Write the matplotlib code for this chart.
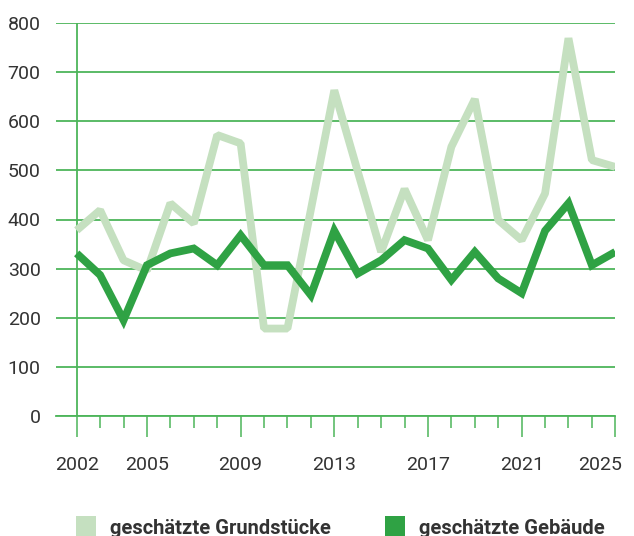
import matplotlib
matplotlib.use("Agg")
import matplotlib.pyplot as plt
import matplotlib.transforms as mtransforms
from matplotlib.patches import Rectangle

years = list(range(2002, 2026))
grundstuecke = [378, 419, 317, 296, 433, 392, 572, 555, 178, 178, 420, 663,
                498, 334, 462, 358, 548, 645, 399, 358, 453, 769, 521, 507]
gebaeude = [331, 287, 195, 307, 331, 341, 307, 368, 307, 307, 246, 377,
            290, 317, 358, 341, 277, 334, 280, 250, 377, 433, 307, 334]
labelled_years = [2002, 2005, 2009, 2013, 2017, 2021, 2025]
y_ticks = [0, 100, 200, 300, 400, 500, 600, 700, 800]
series_names = ["geschätzte Grundstücke", "geschätzte Gebäude"]

light = "#c5e0c0"
dark = "#2fa244"
grid_col = "#4db55a"
text_col = "#333333"

plt.rcParams['font.family'] = ['Roboto', 'DejaVu Sans']

fig = plt.figure(figsize=(6.34, 5.36), dpi=100, facecolor='w')
ax = fig.add_axes([56/634, 1 - 416/536, (615.3 - 56)/634, (416 - 23)/536])

ax.plot(years, grundstuecke, color=light, lw=5.6, solid_joinstyle='bevel',
        solid_capstyle='butt', zorder=3)
ax.plot(years, gebaeude, color=dark, lw=5.6, solid_joinstyle='miter',
        solid_capstyle='butt', zorder=4)

ax.set_xlim(2002 - 20.7/23.42, 2025)
ax.set_ylim(0, 800)

for s in ['top', 'right', 'left']:
    ax.spines[s].set_visible(False)
ax.spines['bottom'].set_color(grid_col)
ax.spines['bottom'].set_linewidth(1.3)
ax.axvline(2002, color=grid_col, lw=1.3, zorder=2)

ax.set_yticks(y_ticks)
ax.yaxis.grid(True, color=grid_col, lw=1.3)
ax.set_axisbelow(True)
ax.tick_params(axis='y', length=0, pad=11, labelsize=14, labelcolor=text_col)

ax.set_xticks(years, minor=True)
ax.set_xticks(labelled_years)
ax.tick_params(axis='x', which='major', length=15, width=1.1, color=grid_col,
               pad=14, labelsize=14, labelcolor=text_col)
ax.tick_params(axis='x', which='minor', length=8.6, width=1.1, color=grid_col)

# last year label sits flush with the right edge
last = ax.get_xticklabels()[-1]
last.set_horizontalalignment('right')
last.set_transform(last.get_transform() +
                   mtransforms.ScaledTranslation(7/100, 0, fig.dpi_scale_trans))

# legend
for i, (name, col) in enumerate(zip(series_names, [light, dark])):
    x0 = [76, 385][i]
    fig.patches.append(Rectangle((x0/634, 0), 20/634, 20/536, transform=fig.transFigure,
                                 facecolor=col, edgecolor='none'))
    fig.text((x0 + 34)/634, 2/536, name, fontsize=14.5, fontweight='bold',
             color=text_col, va='baseline', ha='left')

fig.savefig("out.png", dpi=100, facecolor='w')
